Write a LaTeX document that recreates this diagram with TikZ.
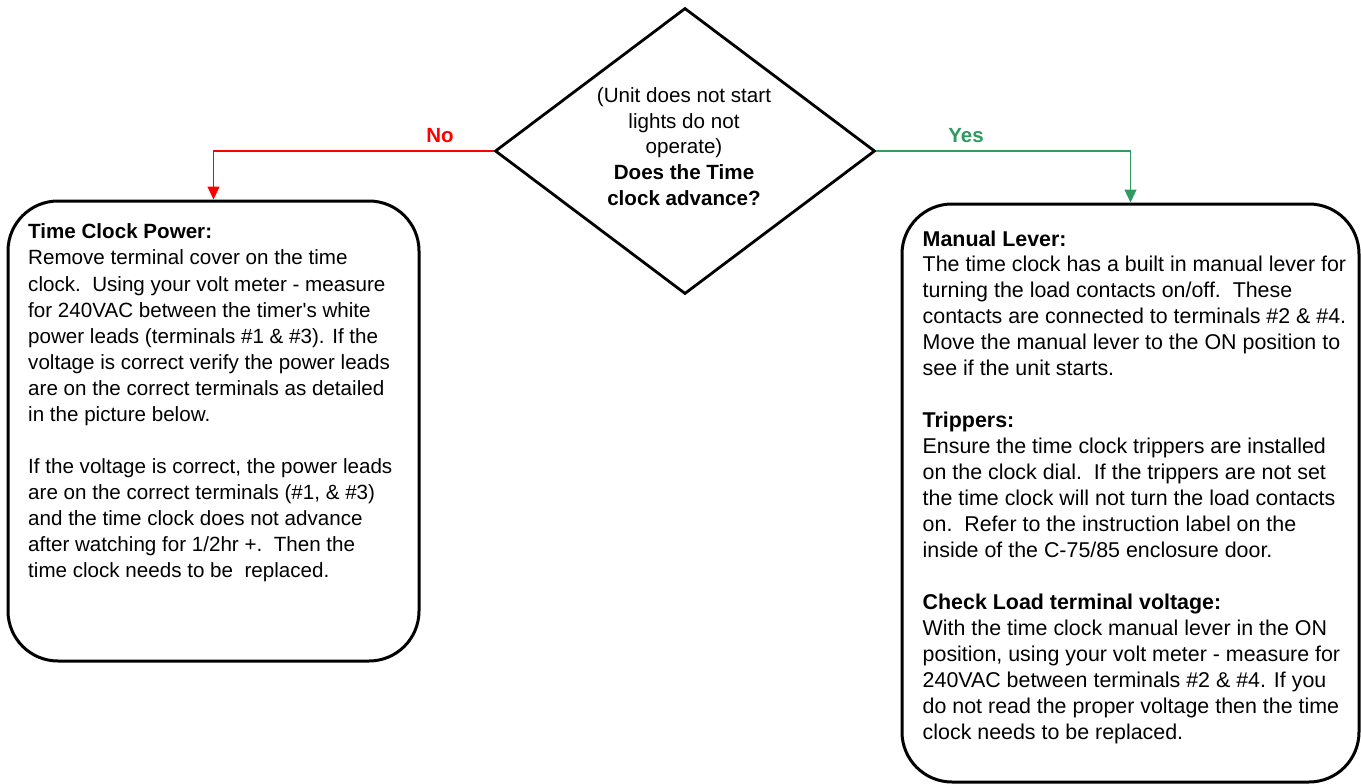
\documentclass[tikz,border=0pt]{standalone}
\usepackage{fontspec}
\setmainfont{Liberation Sans}
\usetikzlibrary{shapes.geometric,arrows.meta}
\definecolor{nored}{RGB}{255,0,0}
\definecolor{yesgreen}{RGB}{46,155,96}
\tikzset{
  box/.style={draw=black, line width=3pt, rounded corners=50pt, inner sep=0pt},
  txt/.style={anchor=north west, inner sep=0pt, align=left},
  conn/.style={line width=1.3pt, -{Triangle[width=12pt,length=13pt]}},
  lbl/.style={font=\fontsize{20.5}{24}\selectfont\bfseries, inner sep=0pt}
}
\begin{document}
\begin{tikzpicture}[x=1pt,y=-1pt]
\useasboundingbox (0,0) rectangle (1361,784);
% decision
\node[diamond, draw, line width=2.8pt, minimum width=380pt, minimum height=286pt, inner sep=0pt, aspect=1.33] (d) at (685,151) {};
\node[align=center, inner sep=0pt, font=\fontsize{20.6}{25.8}\selectfont] (dt) at (684,146.5)
  {(Unit does not start\\lights do not\\operate)\\\textbf{Does the Time}\\\textbf{clock advance?}};
% boxes
\node[box, minimum width=411pt, minimum height=460pt] (L) at (213.5,431) {};
\node[box, minimum width=457pt, minimum height=578pt] (R) at (1130.5,493) {};
\node[txt, font=\fontsize{20.6}{26.05}\selectfont] (Lt) at (28,223.8) {\textbf{Time Clock Power:}\\
Remove terminal cover on the time\\
clock.\ \ Using your volt meter - measure\\
for 240VAC between the timer\textquotesingle s white\\
power leads (terminals \#1 \& \#3). If the\\
voltage is correct verify the power leads\\
are on the correct terminals as detailed\\
in the picture below.\\[26.05pt]
If the voltage is correct, the power leads\\
are on the correct terminals (\#1, \& \#3)\\
and the time clock does not advance\\
after watching for 1/2hr +.\ \ Then the\\
time clock needs to be\ \ replaced.};
\node[txt, font=\fontsize{21.4}{25.95}\selectfont] (Rt) at (922.5,230.3) {\textbf{Manual Lever:}\\
The time clock has a built in manual lever for\\
turning the load contacts on/off.\ \ These\\
contacts are connected to terminals \#2 \& \#4.\\
Move the manual lever to the ON position to\\
see if the unit starts.\\[25.95pt]
\textbf{Trippers:}\\
Ensure the time clock trippers are installed\\
on the clock dial.\ \ If the trippers are not set\\
the time clock will not turn the load contacts\\
on.\ \ Refer to the instruction label on the\\
inside of the C-75/85 enclosure door.\\[25.95pt]
\textbf{Check Load terminal voltage:}\\
With the time clock manual lever in the ON\\
position, using your volt meter - measure for\\
240VAC between terminals \#2 \& \#4. If you\\
do not read the proper voltage then the time\\
clock needs to be replaced.};
% connectors
\draw[conn, draw=nored] (d.west) -| (L.north);
\draw[conn, draw=yesgreen] (d.east) -| (R.north);
\node[lbl, text=nored] (no) at (440,136) {No};
\node[lbl, text=yesgreen] (yes) at (966,136) {Yes};
\end{tikzpicture}
\end{document}
